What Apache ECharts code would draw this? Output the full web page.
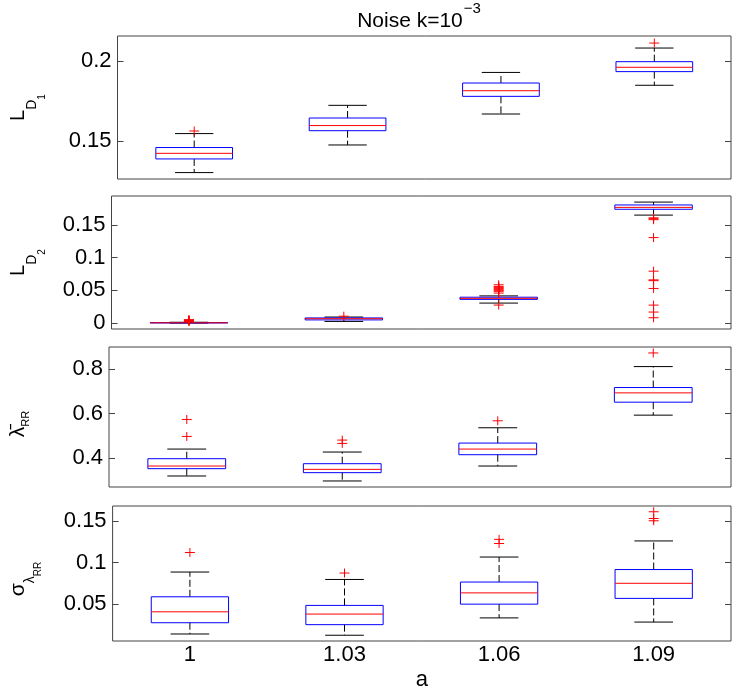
<!DOCTYPE html>
<html>
<head>
<meta charset="utf-8">
<script src="https://cdn.jsdelivr.net/npm/echarts@6/dist/echarts.min.js"></script>
<style>
html,body{margin:0;padding:0;background:#fff;}
#chart{width:737px;height:692px;}
</style>
</head>
<body>
<div id="chart"></div>
<script>
// ---------- data ----------
const categories = ['1', '1.03', '1.06', '1.09'];

// Panel 1: L_D1
const ld1Low  = [0.1305, 0.1477, 0.1670, 0.1849];
const ld1Q1   = [0.1390, 0.1566, 0.1780, 0.1934];
const ld1Med  = [0.1425, 0.1598, 0.1815, 0.1961];
const ld1Q3   = [0.1461, 0.1645, 0.1863, 0.1996];
const ld1High = [0.1548, 0.1724, 0.1929, 0.2081];
const ld1Out  = [[0, 0.1564], [3, 0.2112]];
const ld1Ticks = [0.15, 0.2];

// Panel 2: L_D2
const ld2Low  = [0.0000, 0.0025, 0.0305, 0.1650];
const ld2Q1   = [0.0002, 0.0048, 0.0362, 0.1739];
const ld2Med  = [0.0004, 0.0066, 0.0378, 0.1768];
const ld2Q3   = [0.0007, 0.0078, 0.0395, 0.1805];
const ld2High = [0.0012, 0.0092, 0.0415, 0.1849];
const ld2Out  = [
  [0, 0.0022], [0, 0.0028], [0, 0.0034], [0, 0.0040], [0, 0.0046], [0, 0.0052],
  [1, 0.0105],
  [2, 0.0458], [2, 0.0485], [2, 0.0500], [2, 0.0515], [2, 0.0530], [2, 0.0545], [2, 0.0560], [2, 0.0585], [2, 0.0275],
  [3, 0.1608], [3, 0.1595], [3, 0.1580], [3, 0.1306], [3, 0.0793], [3, 0.0660], [3, 0.0648], [3, 0.0529], [3, 0.0274], [3, 0.0168], [3, 0.0081]
];
const ld2Ticks = [0, 0.05, 0.1, 0.15];

// Panel 3: mean lambda_RR
const lamLow  = [0.3212, 0.2989, 0.3658, 0.5933];
const lamQ1   = [0.3539, 0.3361, 0.4164, 0.6513];
const lamMed  = [0.3658, 0.3509, 0.4416, 0.6929];
const lamQ3   = [0.3985, 0.3762, 0.4684, 0.7167];
const lamHigh = [0.4416, 0.4283, 0.5368, 0.8104];
const lamOut  = [[0, 0.4981], [0, 0.5740], [1, 0.4669], [1, 0.4818], [2, 0.5680], [3, 0.8714]];
const lamTicks = [0.4, 0.6, 0.8];

// Panel 4: sigma lambda_RR
const sigLow  = [0.0142, 0.0127, 0.0335, 0.0285];
const sigQ1   = [0.0277, 0.0254, 0.0500, 0.0569];
const sigMed  = [0.0408, 0.0381, 0.0635, 0.0750];
const sigQ3   = [0.0588, 0.0485, 0.0765, 0.0915];
const sigHigh = [0.0885, 0.0796, 0.1065, 0.1258];
const sigOut  = [[0, 0.1119], [1, 0.0873], [2, 0.1227], [2, 0.1277], [3, 0.1500], [3, 0.1527], [3, 0.1608]];
const sigTicks = [0.05, 0.1, 0.15];

// ---------- chart ----------
const FONT = 'Liberation Sans';
const BORDER = '#444';
const TICKFS = 22;

const panels = [
  {low: ld1Low, q1: ld1Q1, med: ld1Med, q3: ld1Q3, high: ld1High, out: ld1Out, ticks: ld1Ticks,
   min: 0.1265, max: 0.2156, grid: {left: 111, top: 36, height: 143},
   name: '{m|L}{s|D}{ss|1}', nameGap: 70,
   rich: {m: {fontSize: 20, verticalAlign: 'top'},
          s: {fontSize: 14, verticalAlign: 'top', padding: [17.5, 0, 0, 0]},
          ss: {fontSize: 10, verticalAlign: 'top', padding: [29.5, 0, 0, 0]}},
   namePad: [0, 0, 0, 0]},
  {low: ld2Low, q1: ld2Q1, med: ld2Med, q3: ld2Q3, high: ld2High, out: ld2Out, ticks: ld2Ticks,
   min: -0.0091, max: 0.1942, grid: {left: 105, top: 196, height: 133},
   name: '{m|L}{s|D}{ss|2}', nameGap: 64,
   rich: {m: {fontSize: 20, verticalAlign: 'top'},
          s: {fontSize: 14, verticalAlign: 'top', padding: [17.5, 0, 0, 0]},
          ss: {fontSize: 10, verticalAlign: 'top', padding: [29.5, 0, 0, 0]}},
   namePad: [0, 0, 0, 0]},
  {low: lamLow, q1: lamQ1, med: lamMed, q3: lamQ3, high: lamHigh, out: lamOut, ticks: lamTicks,
   min: 0.272, max: 0.898, grid: {left: 104, top: 347, height: 140},
   name: '{m|\u03bb\u0304}{s|RR}', nameGap: 78,
   rich: {m: {fontSize: 21, verticalAlign: 'top'},
          s: {fontSize: 11, verticalAlign: 'top', padding: [12, 0, 0, 0]}},
   namePad: [0, 14, 0, 0]},
  {low: sigLow, q1: sigQ1, med: sigMed, q3: sigQ3, high: sigHigh, out: sigOut, ticks: sigTicks,
   min: 0.0058, max: 0.1677, grid: {left: 103, top: 506, height: 140},
   name: '{m|\u03c3}{s|\u03bb}{ss|RR}', nameGap: 69,
   rich: {m: {fontSize: 21, verticalAlign: 'top'},
          s: {fontSize: 14, verticalAlign: 'top', padding: [15, 0, 0, 0]},
          ss: {fontSize: 10, verticalAlign: 'top', padding: [25.6, 0, 0, 0]}},
   namePad: [0, 11, 0, 0]}
];

function renderBox(params, api) {
  const i = api.value(0);
  const pLow = api.coord([i, api.value(1)]);
  const pQ1 = api.coord([i, api.value(2)]);
  const pMed = api.coord([i, api.value(3)]);
  const pQ3 = api.coord([i, api.value(4)]);
  const pHigh = api.coord([i, api.value(5)]);
  const band = api.size([1, 0])[0];
  const w = band * 0.5;
  const cx = pLow[0];
  const blk = {stroke: '#000', lineWidth: 1};
  const dash = {stroke: '#000', lineWidth: 1, lineDash: [7, 3]};
  return {
    type: 'group',
    children: [
      {type: 'line', shape: {x1: cx, y1: pQ3[1], x2: cx, y2: pHigh[1]}, style: dash},
      {type: 'line', shape: {x1: cx, y1: pQ1[1], x2: cx, y2: pLow[1]}, style: dash},
      {type: 'line', shape: {x1: cx - w / 4, y1: pHigh[1], x2: cx + w / 4, y2: pHigh[1]}, style: blk},
      {type: 'line', shape: {x1: cx - w / 4, y1: pLow[1], x2: cx + w / 4, y2: pLow[1]}, style: blk},
      {type: 'rect', shape: {x: cx - w / 2, y: pQ3[1], width: w, height: pQ1[1] - pQ3[1]},
       style: {stroke: '#0000ff', fill: 'none', lineWidth: 1}},
      {type: 'line', shape: {x1: cx - w / 2, y1: pMed[1], x2: cx + w / 2, y2: pMed[1]},
       style: {stroke: '#ff0000', lineWidth: 1}}
    ]
  };
}

function renderPlus(params, api) {
  const p = api.coord([api.value(0), api.value(1)]);
  const st = {stroke: '#ff0000', lineWidth: 1};
  return {
    type: 'group',
    children: [
      {type: 'line', shape: {x1: p[0] - 5, y1: p[1], x2: p[0] + 5, y2: p[1]}, style: st},
      {type: 'line', shape: {x1: p[0], y1: p[1] - 4.5, x2: p[0], y2: p[1] + 4.5}, style: st}
    ]
  };
}

const grids = [], xAxes = [], yAxes = [], series = [];
panels.forEach((p, k) => {
  grids.push({left: p.grid.left, right: 6, top: p.grid.top, height: p.grid.height,
    show: true, borderColor: BORDER, borderWidth: 1, backgroundColor: '#fff'});
  xAxes.push({
    type: 'category', gridIndex: k, data: categories, boundaryGap: true,
    axisLine: {show: false}, axisTick: {show: false}, splitLine: {show: false},
    axisLabel: {show: k === 3, fontSize: TICKFS, fontFamily: FONT, color: '#000', margin: 3},
    name: k === 3 ? 'a' : '', nameLocation: 'middle', nameGap: 28,
    nameTextStyle: {fontSize: 22, fontFamily: FONT, color: '#000'}
  });
  const tickCfg = {show: true, inside: true, length: 6, customValues: p.ticks, lineStyle: {color: BORDER}};
  yAxes.push({
    type: 'value', gridIndex: k, position: 'left', min: p.min, max: p.max,
    axisLine: {show: false}, splitLine: {show: false},
    axisTick: tickCfg,
    axisLabel: {customValues: p.ticks, fontSize: TICKFS, fontFamily: FONT, color: '#000', margin: 6},
    name: p.name, nameLocation: 'middle', nameRotate: 90, nameGap: p.nameGap,
    nameTextStyle: {fontFamily: FONT, color: '#000', rich: p.rich, padding: p.namePad}
  });
  yAxes.push({
    type: 'value', gridIndex: k, position: 'right', min: p.min, max: p.max,
    axisLine: {show: false}, splitLine: {show: false},
    axisTick: tickCfg, axisLabel: {show: false}
  });
  series.push({
    type: 'custom', coordinateSystem: 'cartesian2d', xAxisIndex: k, yAxisIndex: 2 * k,
    renderItem: renderBox, encode: {x: 0, y: [1, 2, 3, 4, 5]},
    data: categories.map((c, i) => [i, p.low[i], p.q1[i], p.med[i], p.q3[i], p.high[i]])
  });
  series.push({
    type: 'custom', coordinateSystem: 'cartesian2d', xAxisIndex: k, yAxisIndex: 2 * k,
    renderItem: renderPlus, encode: {x: 0, y: 1}, z: 3,
    data: p.out
  });
});

const chart = echarts.init(document.getElementById('chart'), null, {renderer: 'canvas'});
chart.setOption({
  animation: false,
  backgroundColor: '#fff',
  title: {
    text: '{a|Noise k=10}{b|\u22123}',
    left: 419, top: 0, padding: 0, textAlign: 'center',
    textStyle: {
      fontFamily: FONT, color: '#000', fontWeight: 'normal',
      rich: {
        a: {fontSize: 21, fontWeight: 'normal', verticalAlign: 'top', padding: [11, 0, 0, 0], fontFamily: FONT, color: '#000'},
        b: {fontSize: 15, fontWeight: 'normal', verticalAlign: 'top', padding: [1, 0, 0, 1], fontFamily: FONT, color: '#000'}
      }
    }
  },
  grid: grids,
  xAxis: xAxes,
  yAxis: yAxes,
  series: series
});
</script>
</body>
</html>
